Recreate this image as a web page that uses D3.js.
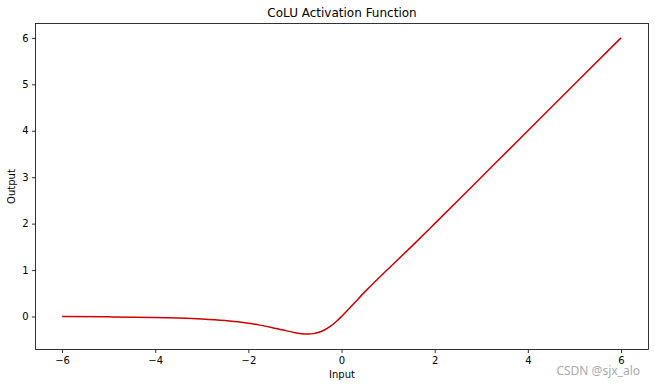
<!DOCTYPE html>
<html><head><meta charset="utf-8">
<script src="https://cdn.jsdelivr.net/npm/d3@7"></script>
<style>body{margin:0;background:#fff}svg{display:block;font-family:"DejaVu Sans",sans-serif}</style>
</head><body>
<svg id="c" width="655" height="387"></svg>
<script>
const inputs = [-6,-5,-4,-3.5,-3,-2.5,-2,-1.75,-1.5,-1.25,-1,-0.9,-0.8,-0.7,-0.6,-0.5,-0.4,-0.25,-0.1,0,0.25,0.5,0.75,1,1.5,2,3,4,5,6];
const outputs = [-0.002,-0.007,-0.019,-0.031,-0.051,-0.086,-0.144,-0.185,-0.235,-0.292,-0.347,-0.364,-0.374,-0.377,-0.368,-0.345,-0.306,-0.218,-0.096,0,0.264,0.531,0.783,1.025,1.506,2.0,3.0,4.0,5.0,6.0];
const xTicks = [-6,-4,-2,0,2,4,6];
const yTicks = [0,1,2,3,4,5,6];

const svg = d3.select("#c");
const L=35.5, R=648.5, T=23.5, B=349.5;
const x = d3.scaleLinear().domain([-6.57,6.59]).range([L,R]);
const y = d3.scaleLinear().domain([-0.71,6.31]).range([B,T]);

const line = d3.line().x((d,i)=>x(inputs[i])).y(d=>y(d)).curve(d3.curveMonotoneX);
svg.append("path").attr("d", line(outputs)).attr("fill","none").attr("stroke","#cc0000").attr("stroke-width",1.5);

const fmt = d=>d<0?"\u2212"+(-d):String(d);
const xa = svg.append("g").attr("transform",`translate(0,${B})`)
  .call(d3.axisBottom(x).tickValues(xTicks).tickSize(3.5).tickPadding(3.5).tickFormat(fmt));
const ya = svg.append("g").attr("transform",`translate(${L},0)`)
  .call(d3.axisLeft(y).tickValues(yTicks).tickSize(3.5).tickPadding(3.5).tickFormat(fmt));
[xa,ya].forEach(g=>{g.select(".domain").remove();g.selectAll("text").attr("font-size",10).attr("fill","#000").attr("font-family","DejaVu Sans");g.selectAll("line").attr("stroke","#000").attr("stroke-width",0.8);});

svg.append("rect").attr("x",L).attr("y",T).attr("width",R-L).attr("height",B-T).attr("fill","none").attr("stroke","#000").attr("stroke-width",0.8);

svg.append("text").attr("x",(L+R)/2).attr("y",17).attr("text-anchor","middle").attr("font-size",12).text("CoLU Activation Function");
svg.append("text").attr("x",(L+R)/2).attr("y",378).attr("text-anchor","middle").attr("font-size",10).text("Input");
svg.append("text").attr("transform",`translate(15,${(T+B)/2}) rotate(-90)`).attr("text-anchor","middle").attr("font-size",10).text("Output");
svg.append("text").attr("x",640).attr("y",375).attr("text-anchor","end").attr("font-size",12).attr("fill","#aaa").attr("font-family","Noto Sans, sans-serif").text("CSDN @sjx_alo");
</script>
</body></html>
